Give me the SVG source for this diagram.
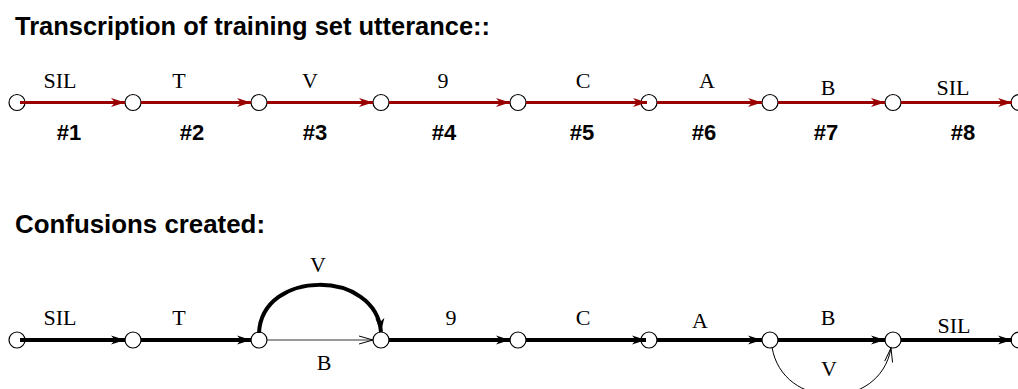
<svg xmlns="http://www.w3.org/2000/svg" width="1018" height="389" viewBox="0 0 1018 389">
  <style>
    .title { font-family: "Liberation Sans", Arial, sans-serif; font-weight: bold; font-size: 25px; fill: #000; }
    .num { font-family: "Liberation Sans", Arial, sans-serif; font-weight: bold; font-size: 22px; fill: #000; text-anchor: middle; }
    .lbl { font-family: "Liberation Serif", "Times New Roman", serif; font-size: 22px; fill: #000; text-anchor: middle; }
    .node { fill: #fff; stroke: #000; stroke-width: 1.2; }
    .red { fill: none; stroke: #990000; stroke-width: 3; marker-end: url(#ahRed); }
    .thick { fill: none; stroke: #000; stroke-width: 4; marker-end: url(#ahBlack); }
    .thin { fill: none; stroke: #333; stroke-width: 1; marker-end: url(#ahThin); }
    .thinArc { fill: none; stroke: #000; stroke-width: 1; marker-end: url(#ahThin); }
  </style>
  <defs>
    <marker id="ahRed" markerUnits="userSpaceOnUse" markerWidth="16" markerHeight="12" refX="14" refY="5" orient="auto" overflow="visible">
      <path d="M14,5 L0,0.5 L4,5 L0,9.5 Z" fill="#990000"/>
    </marker>
    <marker id="ahBlack" markerUnits="userSpaceOnUse" markerWidth="16" markerHeight="12" refX="14" refY="5" orient="auto" overflow="visible">
      <path d="M14,5 L0,0.5 L4,5 L0,9.5 Z" fill="#000"/>
    </marker>
    <marker id="ahThin" markerUnits="userSpaceOnUse" markerWidth="16" markerHeight="12" refX="14" refY="5" orient="auto" overflow="visible">
      <path d="M0,1 L14,5 L0,9" fill="none" stroke="#000" stroke-width="1"/>
    </marker>
  </defs>
  <rect width="1018" height="389" fill="#fff"/>

  <!-- headings -->
  <text id="title1" class="title" x="15" y="35" textLength="475" lengthAdjust="spacingAndGlyphs">Transcription of training set utterance::</text>
  <text id="title2" class="title" x="15" y="233" textLength="250" lengthAdjust="spacingAndGlyphs">Confusions created:</text>

  <!-- upper lattice: states -->
  <g id="top-nodes">
    <g id="t0"><circle class="node" cx="17" cy="102.5" r="8"/></g>
    <g id="t1"><circle class="node" cx="133" cy="102.5" r="8"/></g>
    <g id="t2"><circle class="node" cx="259" cy="102.5" r="8"/></g>
    <g id="t3"><circle class="node" cx="381" cy="102.5" r="8"/></g>
    <g id="t4"><circle class="node" cx="518" cy="102.5" r="8"/></g>
    <g id="t5"><circle class="node" cx="649" cy="102.5" r="8"/></g>
    <g id="t6"><circle class="node" cx="770" cy="102.5" r="8"/></g>
    <g id="t7"><circle class="node" cx="893" cy="102.5" r="8"/></g>
    <g id="t8"><circle class="node" cx="1019" cy="102.5" r="8"/></g>
  </g>

  <!-- lower lattice: states -->
  <g id="bottom-nodes">
    <g id="b0"><circle class="node" cx="17" cy="340" r="8"/></g>
    <g id="b1"><circle class="node" cx="133" cy="340" r="8"/></g>
    <g id="b2"><circle class="node" cx="259" cy="340" r="8"/></g>
    <g id="b3"><circle class="node" cx="381" cy="340" r="8"/></g>
    <g id="b4"><circle class="node" cx="518" cy="340" r="8"/></g>
    <g id="b5"><circle class="node" cx="649" cy="340" r="8"/></g>
    <g id="b6"><circle class="node" cx="770" cy="340" r="8"/></g>
    <g id="b7"><circle class="node" cx="893" cy="340" r="8"/></g>
    <g id="b8"><circle class="node" cx="1019" cy="340" r="8"/></g>
  </g>

  <!-- transitions -->
  <g id="connectors">
    <line class="red" x1="20" y1="102.5" x2="125" y2="102.5"/>
    <line class="red" x1="141" y1="102.5" x2="251" y2="102.5"/>
    <line class="red" x1="267" y1="102.5" x2="373" y2="102.5"/>
    <line class="red" x1="389" y1="102.5" x2="510" y2="102.5"/>
    <line class="red" x1="526" y1="102.5" x2="647" y2="102.5"/>
    <line class="red" x1="657" y1="102.5" x2="762" y2="102.5"/>
    <line class="red" x1="778" y1="102.5" x2="885" y2="102.5"/>
    <line class="red" x1="901" y1="102.5" x2="1012" y2="102.5"/>

    <line class="thick" x1="20" y1="340" x2="125" y2="340"/>
    <line class="thick" x1="141" y1="340" x2="251" y2="340"/>
    <line class="thin" x1="267" y1="340" x2="373" y2="340"/>
    <path class="thick" d="M259,333 C262,269 376,269 381,332"/>
    <line class="thick" x1="389" y1="340" x2="510" y2="340"/>
    <line class="thick" x1="526" y1="340" x2="646" y2="340"/>
    <line class="thick" x1="657" y1="340" x2="762" y2="340"/>
    <line class="thick" x1="778" y1="340" x2="885" y2="340"/>
    <line class="thick" x1="901" y1="340" x2="1012" y2="340"/>
    <path class="thinArc" d="M772,347 C782,410 880,412 891,348"/>
  </g>

  <!-- upper labels -->
  <g id="top-labels">
    <text class="lbl" x="60" y="88">SIL</text>
    <text class="lbl" x="179" y="88">T</text>
    <text class="lbl" x="310" y="88">V</text>
    <text class="lbl" x="443" y="88">9</text>
    <text class="lbl" x="583" y="88">C</text>
    <text class="lbl" x="707" y="88">A</text>
    <text class="lbl" x="828" y="95">B</text>
    <text class="lbl" x="953" y="95">SIL</text>
    <text class="num" x="69" y="140">#1</text>
    <text class="num" x="192" y="140">#2</text>
    <text class="num" x="315" y="140">#3</text>
    <text class="num" x="444" y="140">#4</text>
    <text class="num" x="582" y="140">#5</text>
    <text class="num" x="704" y="140">#6</text>
    <text class="num" x="826" y="140">#7</text>
    <text class="num" x="963" y="140">#8</text>
  </g>

  <!-- lower labels -->
  <g id="bottom-labels">
    <text class="lbl" x="60" y="325">SIL</text>
    <text class="lbl" x="179" y="325">T</text>
    <text class="lbl" x="318" y="272">V</text>
    <text class="lbl" x="324" y="370">B</text>
    <text class="lbl" x="451" y="325">9</text>
    <text class="lbl" x="583" y="325">C</text>
    <text class="lbl" x="700" y="328">A</text>
    <text class="lbl" x="828" y="325">B</text>
    <text class="lbl" x="829" y="376">V</text>
    <text class="lbl" x="954" y="333">SIL</text>
  </g>
</svg>
